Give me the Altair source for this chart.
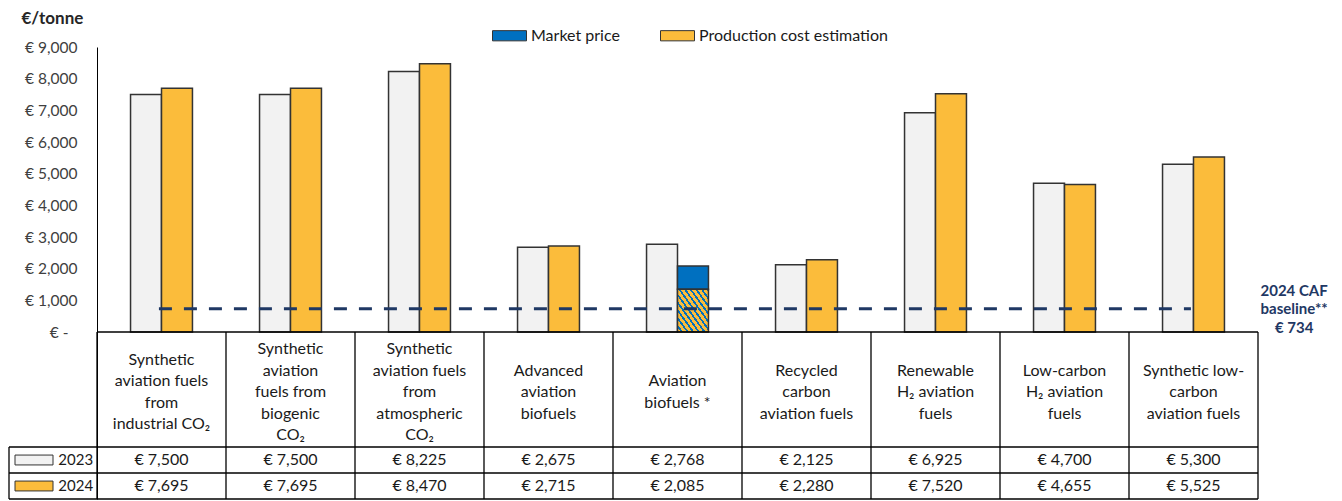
import altair as alt
import pandas as pd

# ---------------- data ----------------
categories = [
    "Synthetic\naviation fuels\nfrom\nindustrial CO₂",
    "Synthetic\naviation\nfuels from\nbiogenic\nCO₂",
    "Synthetic\naviation fuels\nfrom\natmospheric\nCO₂",
    "Advanced\naviation\nbiofuels",
    "Aviation\nbiofuels *",
    "Recycled\ncarbon\naviation fuels",
    "Renewable\nH₂ aviation\nfuels",
    "Low-carbon\nH₂ aviation\nfuels",
    "Synthetic low-\ncarbon\naviation fuels",
]
cost_2023 = [7500, 7500, 8225, 2675, 2768, 2125, 6925, 4700, 5300]
cost_2024 = [7695, 7695, 8470, 2715, 2085, 2280, 7520, 4655, 5525]
series_2024 = ["Production cost estimation"] * 4 + ["Market price"] + ["Production cost estimation"] * 4
hatched_top = [0, 0, 0, 0, 1350, 0, 0, 0, 0]
caf_baseline = 734
years = ["2023", "2024"]
legend_series = ["Market price", "Production cost estimation"]
y_ticks = [0, 1000, 2000, 3000, 4000, 5000, 6000, 7000, 8000, 9000]

# ---------------- style ----------------
FONT = "Lato"
GRAY = "#F2F2F2"
ORANGE = "#FBBC3B"
BLUE = "#0070C0"
NAVY = "#1F3864"
EDGE = "#333333"
TXT = "#1a1a1a"

# layout of the table, in value units below the zero line
PX = 9000 / 285.0          # value units per pixel
HEADER_BOTTOM = -115 * PX
ROW1_BOTTOM = -141 * PX
ROW2_BOTTOM = -167 * PX
LEFT_COL = -88 / 129.0
BAR_W = 0.24
HEAD_LH = 21.5

n = len(categories)
idx = list(range(n))

bars23 = pd.DataFrame({"x": [i + 0.5 - BAR_W for i in idx], "x2": [i + 0.5 for i in idx],
                       "y": [0] * n, "y2": cost_2023})
bars24 = pd.DataFrame({"x": [i + 0.5 for i in idx], "x2": [i + 0.5 + BAR_W for i in idx],
                       "y": hatched_top, "y2": cost_2024, "series": series_2024})
hatch = pd.DataFrame({"x": [i + 0.5 for i in idx if hatched_top[i] > 0],
                      "x2": [i + 0.5 + BAR_W for i in idx if hatched_top[i] > 0],
                      "y": [0 for i in idx if hatched_top[i] > 0],
                      "y2": [hatched_top[i] for i in idx if hatched_top[i] > 0]})

xs = alt.Scale(domain=[0, n], nice=False, zero=False)
ys = alt.Scale(domain=[ROW2_BOTTOM, 9000], nice=False, zero=False)

yaxis = alt.Axis(
    values=y_ticks,
    labelExpr="datum.value == 0 ? '€ -' : '€ ' + format(datum.value, ',')",
    ticks=False, grid=False, domainColor="#000000", domainWidth=1,
    labelFont=FONT, labelFontSize=15.5, labelColor="#404040",
    labelPadding={"condition": {"test": "datum.value == 0", "value": 29}, "value": 20},
    title="€/tonne", titleAngle=0, titleAlign="left", titleBaseline="alphabetic",
    titleX=-76, titleY=-24, titleFont=FONT, titleFontSize=17, titleFontWeight="bold",
    titleColor="#262626",
)

X = lambda f: alt.X(f, scale=xs, axis=None)
Y = lambda f: alt.Y(f, scale=ys, axis=yaxis)

gray_layer = alt.Chart(bars23).mark_bar(fill=GRAY, stroke=EDGE, strokeWidth=1.5).encode(
    x=X("x:Q"), x2="x2", y=Y("y:Q"), y2="y2",
)

legend = alt.Legend(
    orient="none", legendX=395, legendY=-29, direction="horizontal", title=None,
    symbolType="M-1,-0.3H1V0.3H-1Z", symbolSize=1156, symbolStrokeColor=EDGE,
    symbolStrokeWidth=1, labelFont=FONT, labelFontSize=16, labelColor=TXT, labelLimit=400,
    labelOffset=4, columnPadding=38, padding=0,
)
color_layer = alt.Chart(bars24).mark_bar(stroke=EDGE, strokeWidth=1.5).encode(
    x=X("x:Q"), x2="x2", y=Y("y:Q"), y2="y2",
    fill=alt.Fill("series:N", scale=alt.Scale(domain=legend_series, range=[BLUE, ORANGE]),
                  legend=legend),
)

N = 11
stops = []
for k in range(N):
    stops += [alt.GradientStop(color=ORANGE, offset=k / N),
              alt.GradientStop(color=ORANGE, offset=(k + 0.62) / N),
              alt.GradientStop(color=BLUE, offset=(k + 0.62) / N),
              alt.GradientStop(color=BLUE, offset=(k + 1) / N)]
grad = alt.LinearGradient(gradient="linear", stops=stops, x1=0, y1=1, x2=1, y2=0)
hatch_layer = alt.Chart(hatch).mark_bar(fill=grad, stroke=EDGE, strokeWidth=1.5).encode(
    x=X("x:Q"), x2="x2", y=Y("y:Q"), y2="y2",
)

base_df = pd.DataFrame({"x": [0.48], "x2": [n - 0.52], "y": [caf_baseline]})
base_layer = alt.Chart(base_df).mark_rule(color=NAVY, strokeWidth=3, strokeDash=[13, 12]).encode(
    x=X("x:Q"), x2="x2", y=Y("y:Q"),
)
base_text = alt.Chart(pd.DataFrame({"x": [n + 0.28], "y": [caf_baseline],
                                    "t": [f"2024 CAF\nbaseline**\n€ {caf_baseline}"]})).mark_text(
    font=FONT, fontSize=15, fontWeight="bold", color=NAVY, lineBreak="\n", lineHeight=18.5,
    align="center", baseline="middle", dy=-18,
).encode(x=X("x:Q"), y=Y("y:Q"), text="t:N")

# table grid
h_lines = pd.DataFrame({
    "x": [0, LEFT_COL, LEFT_COL, LEFT_COL],
    "x2": [n, n, n, n],
    "y": [0, HEADER_BOTTOM, ROW1_BOTTOM, ROW2_BOTTOM],
    "y2": [0, HEADER_BOTTOM, ROW1_BOTTOM, ROW2_BOTTOM],
})
v_lines = pd.DataFrame({
    "x": [float(i) for i in range(n + 1)] + [LEFT_COL],
    "x2": [float(i) for i in range(n + 1)] + [LEFT_COL],
    "y": [0.0] * (n + 1) + [HEADER_BOTTOM],
    "y2": [ROW2_BOTTOM] * (n + 2),
})
grid_df = pd.concat([h_lines, v_lines], ignore_index=True)
grid_layer = alt.Chart(grid_df).mark_rule(color="#000000", strokeWidth=1.3).encode(
    x=X("x:Q"), x2="x2", y=Y("y:Q"), y2="y2",
)

# header text: first line placed so that the block is centred in the header cell
head_center_px = 60.0
header_df = pd.DataFrame({
    "x": [i + 0.5 for i in idx],
    "y": [-(head_center_px - (c.count("\n")) / 2 * HEAD_LH) * PX for c in categories],
    "t": categories,
})
header_layer = alt.Chart(header_df).mark_text(
    font=FONT, fontSize=16, color=TXT, lineBreak="\n", lineHeight=HEAD_LH,
    align="center", baseline="middle",
).encode(x=X("x:Q"), y=Y("y:Q"), text="t:N")

row1_c = (HEADER_BOTTOM + ROW1_BOTTOM) / 2
row2_c = (ROW1_BOTTOM + ROW2_BOTTOM) / 2
vals_df = pd.DataFrame({
    "x": [i + 0.5 for i in idx] * 2,
    "y": [row1_c] * n + [row2_c] * n,
    "t": [f"€ {v:,}" for v in cost_2023] + [f"€ {v:,}" for v in cost_2024],
})
vals_layer = alt.Chart(vals_df).mark_text(
    font=FONT, fontSize=16, color=TXT, align="center", baseline="middle",
).encode(x=X("x:Q"), y=Y("y:Q"), text="t:N")

rowlab_df = pd.DataFrame({"xs": [(33 - 96) / 129.0] * 2, "xt": [-0.03, -0.03],
                          "y": [row1_c, row2_c], "t": years, "c": [GRAY, ORANGE]})
swatch_layer = alt.Chart(rowlab_df).mark_point(
    shape="M-1,-0.26H1V0.26H-1Z", size=1444, filled=True, stroke=EDGE, strokeWidth=1, opacity=1,
).encode(x=X("xs:Q"), y=Y("y:Q"), fill=alt.Fill("c:N", scale=None))
rowtext_layer = alt.Chart(rowlab_df).mark_text(
    font=FONT, fontSize=15, color=TXT, align="right", baseline="middle",
).encode(x=X("xt:Q"), y=Y("y:Q"), text="t:N")

chart = alt.layer(
    gray_layer, color_layer, hatch_layer, grid_layer, base_layer, base_text,
    header_layer, vals_layer, swatch_layer, rowtext_layer,
).properties(
    width=1161, height=452, padding={"left": 0, "top": 1, "right": 0, "bottom": 0},
    background="white",
).configure_view(stroke=None)

chart.save("out.html", embed_options={"renderer": "svg", "actions": False})
